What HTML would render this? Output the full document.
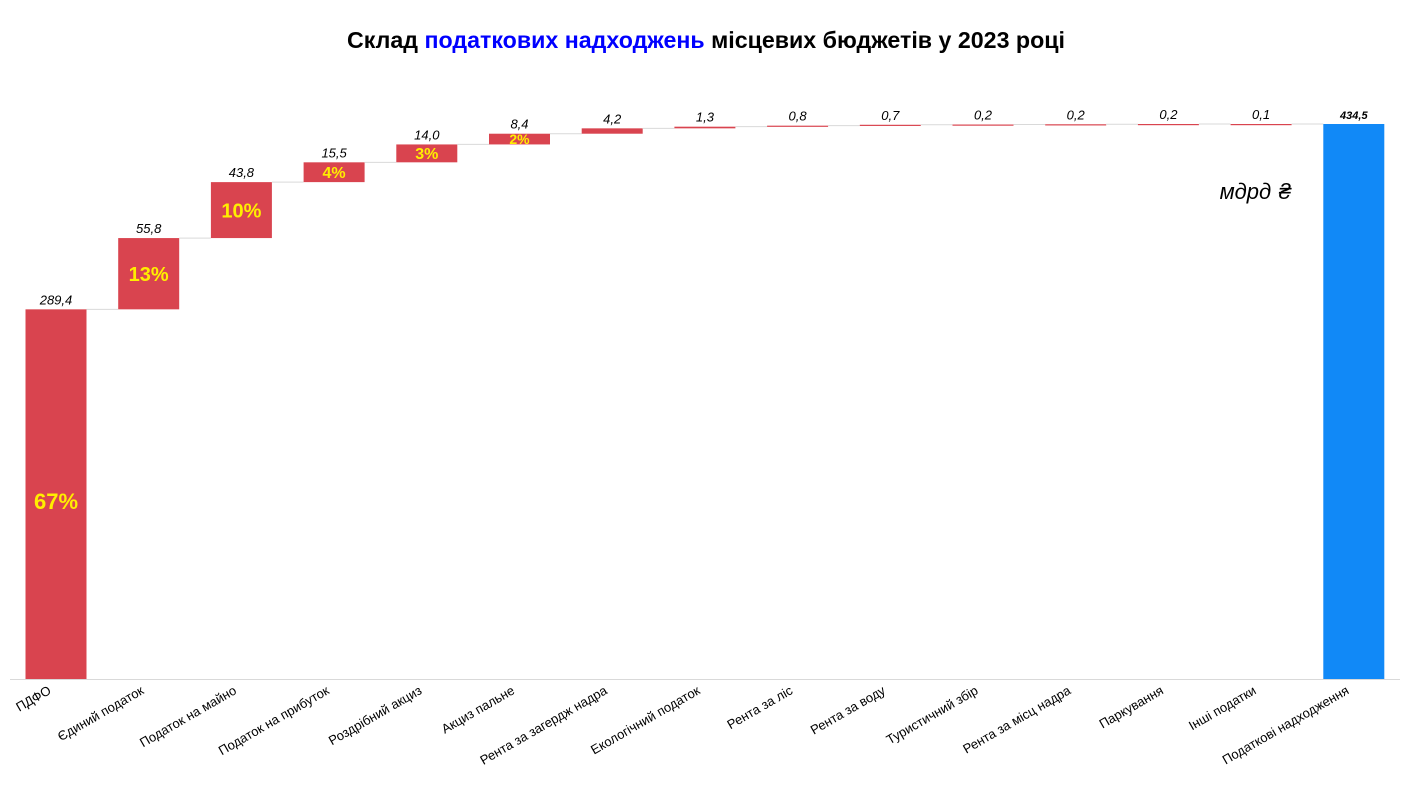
<!DOCTYPE html>
<html><head><meta charset="utf-8"><style>
html,body{margin:0;padding:0;background:#fff;}
svg{display:block;font-family:"Liberation Sans","DejaVu Sans",sans-serif;}
</style></head><body>
<svg id="c" width="1410" height="793" viewBox="0 0 1410 793" xmlns="http://www.w3.org/2000/svg">
<text x="706" y="48" text-anchor="middle" font-size="23" font-weight="bold" fill="#000" textLength="718" lengthAdjust="spacingAndGlyphs">Склад <tspan fill="#0000ff">податкових надходжень</tspan> місцевих бюджетів у 2023 році</text>
<line x1="10" y1="679.5" x2="1400" y2="679.5" stroke="#d9d9d9" stroke-width="1"/>
<text x="1292" y="199" text-anchor="end" font-size="22" font-style="italic" fill="#000">мдрд ₴</text>
</svg>
<script>
var names=["ПДФО","Єдиний податок","Податок на майно","Податок на прибуток","Роздрібний акциз","Акциз пальне","Рента за загердж надра","Екологічний податок","Рента за ліс","Рента за воду","Туристичний збір","Рента за місц надра","Паркування","Інші податки","Податкові надходження"];
var vals=[289.4,55.8,43.8,15.5,14.0,8.4,4.2,1.3,0.8,0.7,0.2,0.2,0.2,0.1];
var pct={0:["67%",22,7],1:["13%",20,0],2:["10%",20,0],3:["4%",16,0],4:["3%",16,0],5:["2%",14,0]};
var s=document.getElementById('c'),ns="http://www.w3.org/2000/svg";
function el(t,a,txt){var e=document.createElementNS(ns,t);for(var k in a)e.setAttribute(k,a[k]);if(txt!=null)e.textContent=txt;s.appendChild(e);return e;}
var base=679,k=555/434.5,step=92.7,x0=56,w=61,cum=0;
for(var i=0;i<15;i++){
 var cx=x0+i*step,lo,hi,last=i==14;
 if(last){lo=0;hi=434.5;}else{lo=cum;hi=Math.min(cum+vals[i],434.5);cum+=vals[i];}
 var yt=base-hi*k,yb=base-lo*k;
 var yc=last?yt:yb;
 if(i>0)el('line',{x1:cx-step+w/2,x2:cx-w/2,y1:yc,y2:yc,stroke:'#d9d9d9','stroke-width':1});
 el('rect',{x:cx-w/2,y:yt,width:w,height:Math.max(yb-yt,1.2),fill:last?'#1189f7':'#d9444f'});
 var lab=last?"434,5":vals[i].toFixed(1).replace('.',',');
 el('text',{x:cx,y:yt-5,'text-anchor':'middle','font-size':last?11:13,'font-style':'italic','font-weight':last?'bold':'normal',fill:'#000'},lab);
 if(pct[i]){var p=pct[i];el('text',{x:cx,y:(yt+yb)/2+p[1]*0.36+p[2],'text-anchor':'middle','font-size':p[1],'font-weight':'bold',fill:'#ffee00'},p[0]);}
 el('text',{x:cx-4,y:693,'text-anchor':'end','font-size':13,fill:'#000',transform:'rotate(-30 '+(cx-4)+' 693)'},names[i]);
}
</script>
</body></html>
